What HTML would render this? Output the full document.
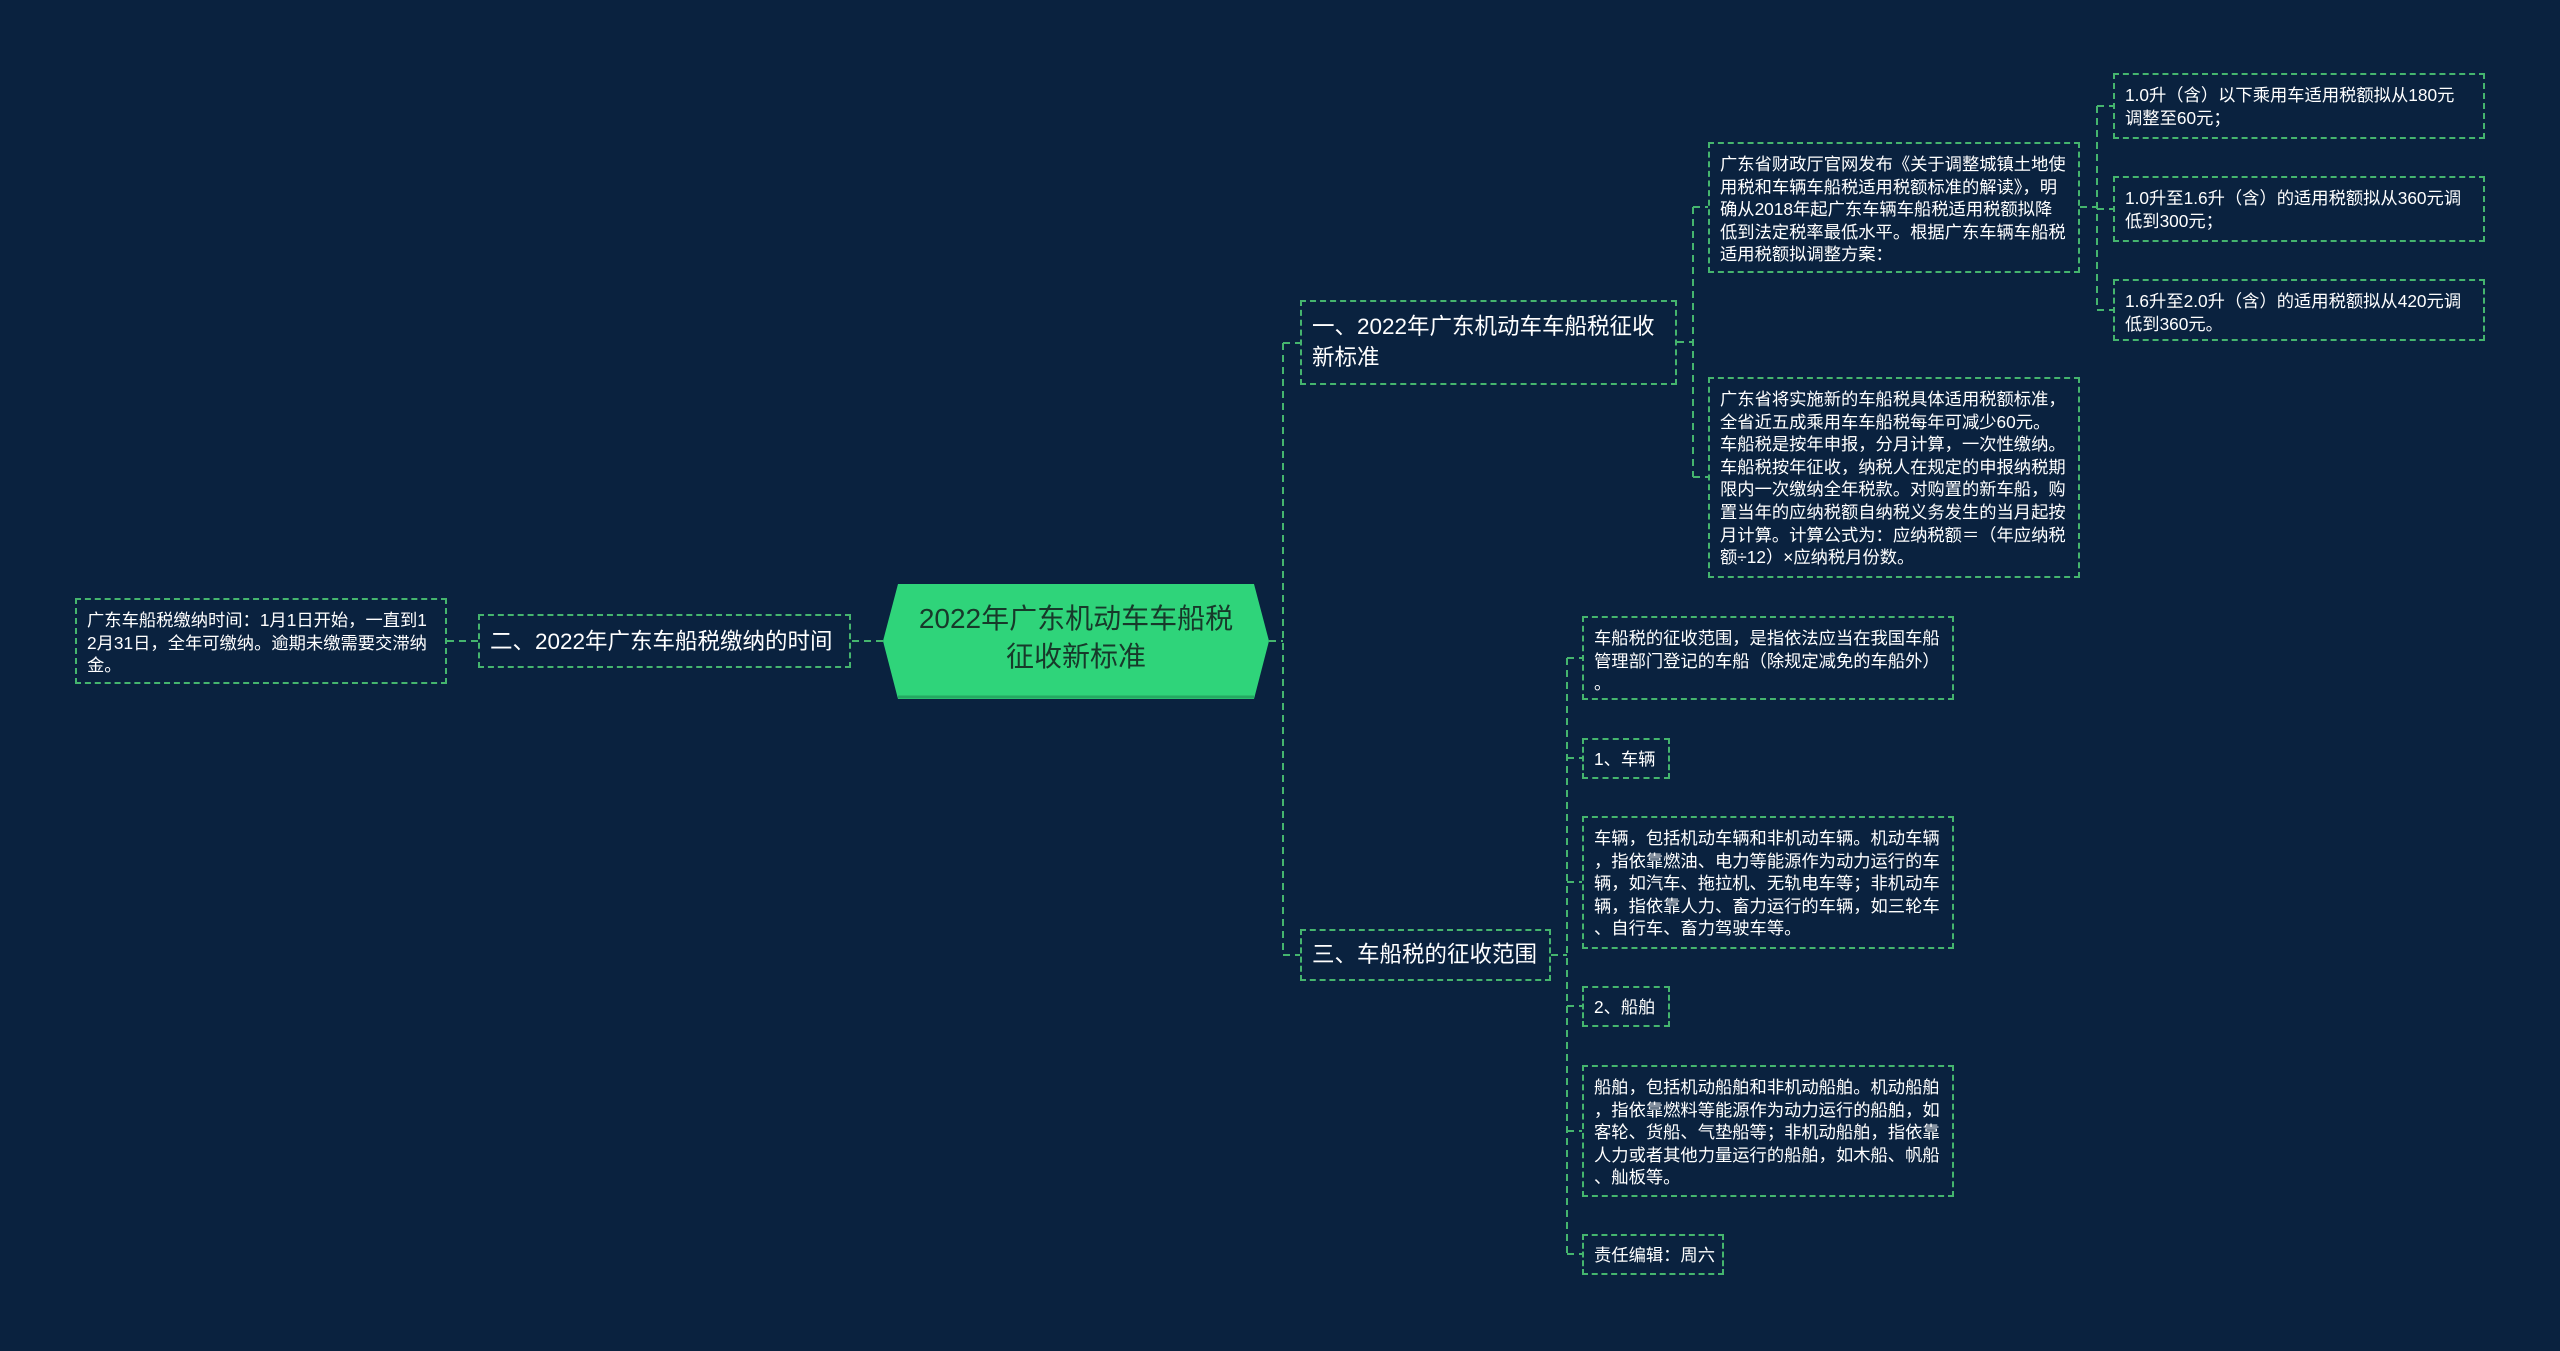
<!DOCTYPE html>
<html><head><meta charset="utf-8">
<style>
html,body{margin:0;padding:0;}
body{width:2560px;height:1351px;background:#0a223f;position:relative;overflow:hidden;font-family:"Liberation Sans","Noto Sans CJK SC",sans-serif;color:#fff;}
.b{position:absolute;box-sizing:border-box;border:2px dashed #45b56e;white-space:nowrap;}
.s{font-size:17.3px;line-height:22.6px;padding:9px 10px;}
.m{font-size:22.5px;line-height:31px;padding:9px 10px;}
svg{position:absolute;left:0;top:0;}
</style></head><body>
<svg width="2560" height="1351">
<g stroke="#45b56e" stroke-width="2" stroke-dasharray="7,5" fill="none">
<path d="M1269 641 H1283 M1283 343 V955 M1283 343 H1300 M1283 955 H1300"/>
<path d="M1677 342 H1693 M1693 207 V477 M1693 207 H1708 M1693 477 H1708"/>
<path d="M2080 207 H2097 M2097 106 V310 M2097 106 H2113 M2097 209 H2113 M2097 310 H2113"/>
<path d="M1551 955 H1567 M1567 658 V1254 M1567 658 H1582 M1567 758 H1582 M1567 882 H1582 M1567 1006 H1582 M1567 1131 H1582 M1567 1254 H1582"/>
<path d="M883 641 H851 M478 641 H447"/>
</g>
<polygon points="898,584 1254,584 1269,641 1254,699 898,699 883,641" fill="#2fd47a"/>
<line x1="898" y1="697" x2="1254" y2="697" stroke="#25a862" stroke-width="3"/>
</svg>
<div style="position:absolute;left:883px;top:600px;width:386px;text-align:center;font-size:28px;line-height:38px;color:#17392a;">2022年广东机动车车船税<br>征收新标准</div>

<div class="b s" style="left:75px;top:598px;width:372px;height:86px;">广东车船税缴纳时间：1月1日开始，一直到1<br>2月31日，全年可缴纳。逾期未缴需要交滞纳<br>金。</div>
<div class="b m" style="left:478px;top:614px;width:373px;height:54px;padding-top:10px;">二、2022年广东车船税缴纳的时间</div>

<div class="b m" style="left:1300px;top:300px;width:377px;height:85px;">一、2022年广东机动车车船税征收<br>新标准</div>
<div class="b s" style="left:1708px;top:142px;width:372px;height:131px;">广东省财政厅官网发布《关于调整城镇土地使<br>用税和车辆车船税适用税额标准的解读》，明<br>确从2018年起广东车辆车船税适用税额拟降<br>低到法定税率最低水平。根据广东车辆车船税<br>适用税额拟调整方案：</div>
<div class="b s" style="left:2113px;top:73px;width:372px;height:66px;">1.0升（含）以下乘用车适用税额拟从180元<br>调整至60元；</div>
<div class="b s" style="left:2113px;top:176px;width:372px;height:66px;">1.0升至1.6升（含）的适用税额拟从360元调<br>低到300元；</div>
<div class="b s" style="left:2113px;top:279px;width:372px;height:62px;">1.6升至2.0升（含）的适用税额拟从420元调<br>低到360元。</div>
<div class="b s" style="left:1708px;top:377px;width:372px;height:201px;">广东省将实施新的车船税具体适用税额标准，<br>全省近五成乘用车车船税每年可减少60元。<br>车船税是按年申报，分月计算，一次性缴纳。<br>车船税按年征收，纳税人在规定的申报纳税期<br>限内一次缴纳全年税款。对购置的新车船，购<br>置当年的应纳税额自纳税义务发生的当月起按<br>月计算。计算公式为：应纳税额＝（年应纳税<br>额÷12）×应纳税月份数。</div>

<div class="b m" style="left:1300px;top:929px;width:251px;height:52px;padding-top:8px;">三、车船税的征收范围</div>
<div class="b s" style="left:1582px;top:616px;width:372px;height:84px;">车船税的征收范围，是指依法应当在我国车船<br>管理部门登记的车船（除规定减免的车船外）<br>。</div>
<div class="b s" style="left:1582px;top:738px;width:88px;height:41px;padding:8px 10px;">1、车辆</div>
<div class="b s" style="left:1582px;top:816px;width:372px;height:133px;">车辆，包括机动车辆和非机动车辆。机动车辆<br>，指依靠燃油、电力等能源作为动力运行的车<br>辆，如汽车、拖拉机、无轨电车等；非机动车<br>辆，指依靠人力、畜力运行的车辆，如三轮车<br>、自行车、畜力驾驶车等。</div>
<div class="b s" style="left:1582px;top:986px;width:88px;height:41px;padding:8px 10px;">2、船舶</div>
<div class="b s" style="left:1582px;top:1065px;width:372px;height:132px;">船舶，包括机动船舶和非机动船舶。机动船舶<br>，指依靠燃料等能源作为动力运行的船舶，如<br>客轮、货船、气垫船等；非机动船舶，指依靠<br>人力或者其他力量运行的船舶，如木船、帆船<br>、舢板等。</div>
<div class="b s" style="left:1582px;top:1234px;width:142px;height:41px;padding:8px 10px;">责任编辑：周六</div>
</body></html>
